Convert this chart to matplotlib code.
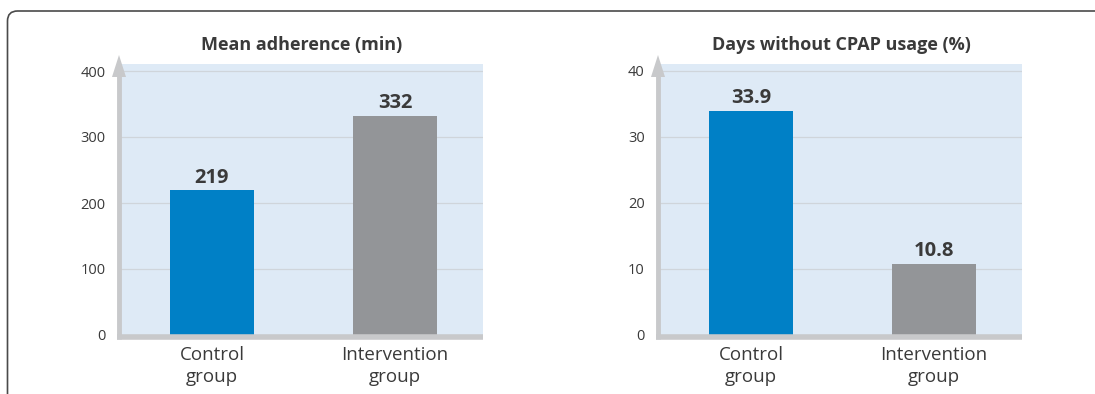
import matplotlib
matplotlib.use('Agg')
import matplotlib.pyplot as plt
from matplotlib.patches import FancyBboxPatch

plt.rcParams['font.family'] = ['Open Sans', 'DejaVu Sans']

# Data
categories = ['Control\ngroup', 'Intervention\ngroup']
adherence = [219, 332]
days_without = [33.9, 10.8]
adherence_labels = ['219', '332']
days_labels = ['33.9', '10.8']

bar_colors = ['#0080c6', '#939598']
bg_color = '#deeaf6'
axis_gray = '#c8c9cb'
text_dark = '#3a3a3a'

W, H = 1095, 394
fig = plt.figure(figsize=(W / 100, H / 100), dpi=100)

# outer rounded frame (runs off the right and bottom edge), in inches
frame = FancyBboxPatch((0.075, -0.3), 12.0, (H - 11) / 100 + 0.3,
                       boxstyle='round,pad=0,rounding_size=0.1',
                       transform=fig.dpi_scale_trans, fill=False,
                       edgecolor='#4a4a4a', linewidth=1.2)
fig.patches.append(frame)


def panel(left_px, values, labels, ymax, ticks, title):
    ax = fig.add_axes([left_px / W, (H - 335) / H, 362 / W, 271 / H])
    ax.set_facecolor(bg_color)
    ax.set_xlim(-0.497, 1.481)
    ax.set_ylim(0, ymax * 271 / 264)
    for t in ticks[1:]:
        ax.axhline(t, color='#cfd5db', linewidth=0.9, zorder=1)
    ax.bar([0, 1], values, width=0.46, color=bar_colors, zorder=2)
    for i, (v, lab) in enumerate(zip(values, labels)):
        ax.annotate(lab, (i, v), xytext=(0, 2), textcoords='offset points',
                    ha='center', va='bottom', fontsize=14.5, fontweight='bold',
                    color=text_dark)
    for s in ax.spines.values():
        s.set_visible(False)
    ax.set_yticks(ticks)
    ax.set_yticklabels([str(t) for t in ticks], fontsize=10.5, color=text_dark)
    ax.tick_params(axis='y', length=0, pad=11)
    ax.set_xticks([0, 1])
    ax.set_xticklabels(categories, fontsize=13.5, color=text_dark, linespacing=1.25)
    ax.tick_params(axis='x', length=0, pad=8)
    ax.set_title(title, fontsize=13, fontweight='bold', color=text_dark, pad=10)

    # gray axis with arrow on the left, thick base line at bottom
    x0 = (left_px - 2) / W
    fig.add_artist(plt.Line2D([(left_px - 4) / W, (left_px + 362) / W],
                              [(H - 337) / H, (H - 337) / H],
                              color=axis_gray, linewidth=4, solid_capstyle='butt'))
    fig.add_artist(plt.Line2D([x0, x0], [(H - 339) / H, (H - 72) / H],
                              color=axis_gray, linewidth=3.5, solid_capstyle='butt'))
    fig.patches.append(plt.Polygon([[x0 - 7 / W, (H - 77) / H],
                                    [x0 + 7 / W, (H - 77) / H],
                                    [x0, (H - 55) / H]],
                                   closed=True, transform=fig.transFigure,
                                   facecolor=axis_gray, edgecolor='none'))
    return ax


panel(121, adherence, adherence_labels, 400, [0, 100, 200, 300, 400],
      'Mean adherence (min)')
panel(660, days_without, days_labels, 40, [0, 10, 20, 30, 40],
      'Days without CPAP usage (%)')

fig.savefig('out.png', dpi=100)
